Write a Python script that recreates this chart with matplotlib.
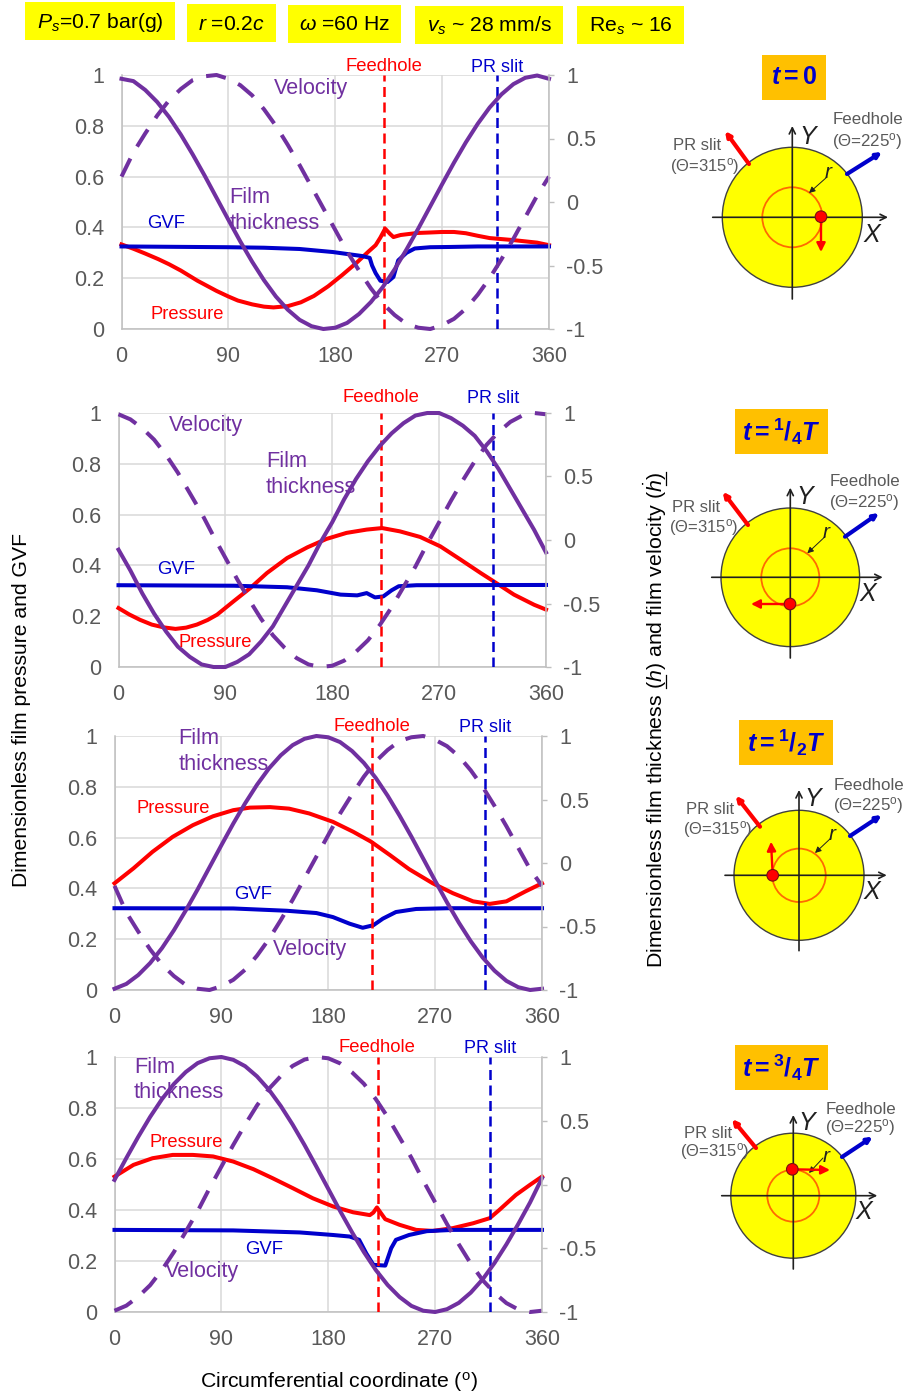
import matplotlib
matplotlib.use("Agg")
import matplotlib.pyplot as plt
from matplotlib.patches import Circle, Rectangle, FancyArrowPatch

plt.rcParams['font.family'] = ['Liberation Sans', 'DejaVu Sans']
plt.rcParams['mathtext.fontset'] = 'custom'
plt.rcParams['mathtext.rm'] = 'Liberation Sans'
plt.rcParams['mathtext.it'] = 'Liberation Sans:italic'
plt.rcParams['mathtext.bf'] = 'Liberation Sans:bold'
plt.rcParams['mathtext.bfit'] = 'Liberation Sans:italic:bold'

# ---------- data ----------
theta = list(range(0, 361, 10))

film_1 = [.985,.976,.941,.894,.835,.765,.687,.604,.517,.430,.345,.265,.192,.128,.076,.036,.011,.000,.005,.024,.059,.106,.165,.235,.313,.396,.483,.570,.655,.735,.808,.872,.924,.964,.989,.998,.985]
vel_1 = [.20,.39,.54,.68,.80,.89,.96,.99,1.0,.97,.92,.84,.73,.60,.45,.29,.12,-.05,-.22,-.39,-.54,-.68,-.80,-.89,-.96,-.99,-1.0,-.97,-.92,-.84,-.73,-.60,-.45,-.29,-.12,.05,.20]
p_x_1 = [0,10,20,31,40,50,64,80,90,98,110,120,128,140,151,162,174,186,198,208,214,218,222,226,229,235,249,260,270,280,290,300,310,320,330,340,350,360]
p_1 = [.333,.316,.297,.275,.255,.23,.19,.15,.128,.112,.097,.088,.085,.09,.105,.13,.168,.213,.261,.305,.33,.36,.395,.375,.362,.37,.378,.38,.382,.382,.377,.367,.358,.354,.35,.345,.34,.33]
g_x_1 = [0,90,120,150,178,203,209,211,214,218,224,229,233,240,247,260,277,300,360]
g_1 = [.325,.322,.32,.315,.303,.287,.28,.25,.22,.19,.185,.205,.27,.30,.317,.322,.323,.325,.325]

film_2 = [.462,.38,.29,.21,.14,.08,.04,.01,.00,.00,.02,.05,.10,.16,.24,.32,.40,.49,.57,.66,.74,.81,.87,.92,.96,.99,1.0,1.0,.98,.95,.91,.85,.78,.70,.62,.54,.451]
vel_2 = [.99,.95,.88,.79,.67,.53,.37,.21,.03,-.14,-.31,-.47,-.62,-.75,-.85,-.93,-.98,-1.0,-.99,-.95,-.88,-.79,-.67,-.53,-.37,-.21,-.03,.14,.31,.47,.62,.75,.85,.93,.98,1.0,.99]
p_x_2 = [0,9,18,28,38,48,57,66,75,83,97,111,125,142,159,175,192,209,222,237,254,271,288,305,316,333,350,360]
p_2 = [.232,.207,.186,.167,.156,.15,.155,.167,.185,.206,.259,.311,.37,.429,.471,.504,.528,.541,.547,.534,.512,.475,.423,.37,.337,.285,.245,.226]
g_x_2 = [0,97,142,167,187,201,209,216,223,230,236,251,360]
g_2 = [.322,.32,.314,.302,.285,.282,.291,.274,.278,.302,.318,.322,.323]

film_3 = [.005,.024,.059,.106,.165,.235,.313,.396,.483,.57,.655,.735,.808,.872,.924,.964,.989,1.0,.995,.976,.941,.894,.835,.765,.687,.604,.517,.43,.345,.265,.192,.128,.076,.036,.011,.0,.005]
vel_3 = [-.18,-.39,-.54,-.68,-.80,-.89,-.96,-.99,-1.0,-.97,-.92,-.84,-.73,-.60,-.45,-.29,-.12,.05,.22,.39,.54,.68,.80,.89,.96,.99,1.0,.97,.92,.84,.73,.60,.45,.29,.12,-.05,-.18]
p_x_3 = [0,16,32,49,66,83,100,114,131,147,164,184,201,216,232,248,268,285,302,316,330,346,360]
p_3 = [.42,.479,.544,.603,.649,.684,.708,.718,.72,.714,.695,.662,.623,.584,.531,.476,.42,.381,.349,.339,.349,.388,.42]
g_x_3 = [0,100,145,170,184,198,209,218,226,237,254,282,360]
g_3 = [.322,.321,.312,.303,.287,.261,.245,.255,.281,.307,.319,.322,.322]

film_4 = [.518,.604,.687,.765,.835,.894,.941,.976,.995,1.0,.989,.964,.924,.872,.808,.735,.655,.57,.483,.396,.313,.235,.165,.106,.059,.024,.005,.0,.011,.036,.076,.128,.192,.265,.345,.43,.525]
vel_4 = [-.99,-.95,-.88,-.79,-.67,-.53,-.37,-.21,-.03,.14,.31,.47,.62,.75,.85,.93,.98,1.0,.99,.95,.88,.79,.67,.53,.37,.21,.03,-.14,-.31,-.47,-.62,-.75,-.85,-.93,-.98,-1.0,-.99]
p_x_4 = [0,16,32,49,66,83,100,117,133,150,167,184,201,215,218,221,224,228,240,254,268,285,302,316,324,338,350,360]
p_4 = [.531,.577,.603,.616,.616,.61,.59,.56,.525,.486,.446,.414,.391,.38,.39,.41,.39,.364,.342,.322,.318,.329,.348,.368,.40,.459,.499,.531]
g_x_4 = [0,100,156,184,198,206,212,218,228,233,237,248,263,285,360]
g_4 = [.322,.32,.312,.302,.296,.283,.23,.185,.182,.25,.283,.302,.317,.322,.322]

left_ticks = [0, .2, .4, .6, .8, 1]
left_labels = ['0', '0.2', '0.4', '0.6', '0.8', '1']
right_ticks = [-1, -.5, 0, .5, 1]
right_labels = ['-1', '-0.5', '0', '0.5', '1']
x_ticks = [0, 90, 180, 270, 360]
feedhole_angles = [221, 221, 217, 222]
prslit_angles = [316, 315.5, 312, 316]

series = [
    (p_x_1, p_1, g_x_1, g_1, film_1, vel_1),
    (p_x_2, p_2, g_x_2, g_2, film_2, vel_2),
    (p_x_3, p_3, g_x_3, g_3, film_3, vel_3),
    (p_x_4, p_4, g_x_4, g_4, film_4, vel_4),
]

# ---------- layout (pixels) ----------
W, H = 907, 1395
panels = [(121.5, 549, 75, 329), (118.5, 546, 413, 667), (114.5, 542, 736, 990), (114.5, 542, 1057, 1312)]
PURPLE, RED, BLUE, GRAY, GRID, EDGE = '#7030A0', '#FF0000', '#0000CC', '#595959', '#D9D9D9', '#BFBFBF'

fig = plt.figure(figsize=(W / 100, H / 100), dpi=100)

for (x0, x1, y0, y1), (px, p, gx, g, film, vel), fa, pa in zip(panels, series, feedhole_angles, prslit_angles):
    ax = fig.add_axes([x0 / W, 1 - y1 / H, (x1 - x0) / W, (y1 - y0) / H])
    ax.set_xlim(0, 360); ax.set_ylim(0, 1)
    ax.set_xticks(x_ticks); ax.set_yticks(left_ticks)
    ax.set_yticklabels(left_labels)
    ax.grid(True, color=GRID, lw=1.1)
    ax.set_axisbelow(True)
    ax.tick_params(length=0, labelsize=15.5, labelcolor=GRAY, pad=12.5)
    ax.tick_params(axis='x', pad=12.5)
    for s in ax.spines.values():
        s.set_visible(False)
    ax.spines['bottom'].set_visible(True); ax.spines['bottom'].set_color(EDGE); ax.spines['bottom'].set_linewidth(1.1)
    ax.spines['left'].set_visible(True); ax.spines['left'].set_color(EDGE); ax.spines['left'].set_linewidth(1.1)
    ax.plot(px, p, color=RED, lw=2.9, zorder=3, clip_on=False, solid_joinstyle='round')
    ax.plot(gx, g, color=BLUE, lw=2.9, zorder=3.2, clip_on=False, solid_joinstyle='round')
    ax.axvline(fa, color=RED, lw=1.8, ls=(0, (4, 2.2)), zorder=3.4)
    ax.axvline(pa, color=BLUE, lw=1.8, ls=(0, (4, 2.2)), zorder=3.4)
    ax.plot(theta, film, color=PURPLE, lw=2.9, zorder=4, clip_on=False, solid_joinstyle='round')
    ar = ax.twinx()
    ar.set_ylim(-1, 1)
    ar.set_yticks(right_ticks); ar.set_yticklabels(right_labels)
    ar.tick_params(length=3.5, width=1, color=EDGE, labelsize=15.5, labelcolor=GRAY, pad=9)
    for s in ar.spines.values():
        s.set_visible(False)
    ar.spines['right'].set_visible(True); ar.spines['right'].set_color(EDGE); ar.spines['right'].set_linewidth(1.1)
    ar.plot(theta, vel, color=PURPLE, lw=2.9, ls=(0, (5, 3.4)), clip_on=False)

ov = fig.add_axes([0, 0, 1, 1], zorder=10)
ov.set_xlim(0, W); ov.set_ylim(H, 0); ov.axis('off'); ov.patch.set_alpha(0)

def label(x, y, s, c, size, **kw):
    ov.text(x, y, s, color=c, fontsize=size, ha='center', va='center', **kw)

# top parameter boxes
boxes = [(25, 175, 2, 40, r'$\mathit{P_s}$=0.7 bar(g)'), (187, 276, 4, 42, r'$\mathit{r}$ =0.2$\mathit{c}$'),
         (288, 401, 5, 43, r'$\mathit{\omega}$ =60 Hz'), (415, 563, 6, 44, r'$\mathit{v_s}$ ~ 28 mm/s'),
         (577, 684, 6, 44, r'Re$_\mathit{s}$ ~ 16')]
for x0, x1, y0, y1, s in boxes:
    ov.add_patch(Rectangle((x0, y0), x1 - x0, y1 - y0, color='#FFFF00', lw=0))
    label((x0 + x1) / 2, (y0 + y1) / 2 + 1, s, 'black', 15.2)

annots = [
    [(384, 65, 'Feedhole', RED, 13.3), (497, 66, 'PR slit', BLUE, 13), (311, 87, 'Velocity', PURPLE, 15.5),
     (250, 196, 'Film', PURPLE, 15.7), (275, 222, 'thickness', PURPLE, 15.7), (166, 222, 'GVF', BLUE, 13.3), (187, 313, 'Pressure', RED, 13.2)],
    [(381, 396, 'Feedhole', RED, 13.3), (493, 397, 'PR slit', BLUE, 13), (206, 424, 'Velocity', PURPLE, 15.5),
     (287, 460, 'Film', PURPLE, 15.7), (311, 486, 'thickness', PURPLE, 15.7), (176, 568, 'GVF', BLUE, 13.3), (215, 641, 'Pressure', RED, 13.2)],
    [(372, 725, 'Feedhole', RED, 13.3), (485, 726, 'PR slit', BLUE, 13), (310, 948, 'Velocity', PURPLE, 15.5),
     (199, 737, 'Film', PURPLE, 15.7), (224, 763, 'thickness', PURPLE, 15.7), (253, 893, 'GVF', BLUE, 13.3), (173, 807, 'Pressure', RED, 13.2)],
    [(377, 1046, 'Feedhole', RED, 13.3), (490, 1047, 'PR slit', BLUE, 13), (202, 1270, 'Velocity', PURPLE, 15.5),
     (155, 1066, 'Film', PURPLE, 15.7), (179, 1091, 'thickness', PURPLE, 15.7), (264, 1248, 'GVF', BLUE, 13.3), (186, 1141, 'Pressure', RED, 13.2)],
]
for grp in annots:
    for x, y, s, c, size in grp:
        label(x, y + 1.5, s, c, size)

label(21.5, 710, 'Dimensionless film pressure and GVF', 'black', 15.2, rotation=90)
label(655, 720, r'Dimensionless film thickness ($\mathit{h}$) and film velocity ($\dot{\mathit{h}}$)', 'black', 15.4, rotation=90)
ov.plot([666, 666], [675, 688], color='black', lw=0.9)
ov.plot([666, 666], [472, 485], color='black', lw=0.9)
label(338.5, 1381.5, r'Circumferential coordinate ($^{\mathrm{o}}$)', 'black', 15.3)

# time badges
badges = [(762, 826, 55, 100, r'$\mathbfit{t}{\mathbf{=}}\mathbf{0}$'),
          (735, 828, 409, 454, r'$\mathbfit{t}{\mathbf{=}}^{\mathbf{1}}\mathbf{/}_{\mathbf{4}}\mathbfit{T}$'),
          (739, 833, 720, 765, r'$\mathbfit{t}{\mathbf{=}}^{\mathbf{1}}\mathbf{/}_{\mathbf{2}}\mathbfit{T}$'),
          (735, 828, 1045, 1090, r'$\mathbfit{t}{\mathbf{=}}^{\mathbf{3}}\mathbf{/}_{\mathbf{4}}\mathbfit{T}$')]
for x0, x1, y0, y1, s in badges:
    ov.add_patch(Rectangle((x0, y0), x1 - x0, y1 - y0, color='#FFC000', lw=0))
    label((x0 + x1) / 2, (y0 + y1) / 2, s, BLUE, 18)

def arrow(p, q, c, lw, ms=9, z=5, style='-|>'):
    ov.add_patch(FancyArrowPatch(p, q, arrowstyle=style, mutation_scale=ms, color=c, lw=lw,
                                 shrinkA=0, shrinkB=0, zorder=z))

schem = [
    dict(c=(792.3, 217.3), R=70, r=30, dot=(821, 216.7), tip=(821, 252), h=(712.7, 888), v=(126, 299),
         Y=(808, 137), X=(872, 235), pr=((749, 164), (725, 131)), fd=((847, 174), (882, 152)),
         t1=(697, 146), t2=(705, 167), t3=(868, 120), t4=(867, 142), rl=(828, 172), ra=((827, 177), (809, 193))),
    dict(c=(790.3, 577.3), R=69.3, r=29, dot=(790, 604), tip=(751, 604), h=(711.7, 882.7), v=(487.7, 658),
         Y=(805, 497), X=(868, 594), pr=((748, 525), (722.7, 491.7)), fd=((845, 536.7), (879, 513)),
         t1=(695.7, 507), t2=(704, 528), t3=(865, 481.7), t4=(864, 502.7), rl=(826, 533), ra=((825, 536.7), (807.3, 553.3))),
    dict(c=(799, 875.3), R=65, r=26.7, dot=(772.7, 875.3), tip=(771, 841.7), h=(725, 886.7), v=(790, 950.7),
         Y=(812.7, 799), X=(872, 891.7), pr=((760, 826.7), (735.7, 795.7)), fd=((850, 836), (881.7, 815)),
         t1=(710, 809), t2=(718, 829), t3=(869, 785), t4=(868, 805), rl=(831.7, 834), ra=((831, 838), (815, 853))),
    dict(c=(793.3, 1195.7), R=62.5, r=26, dot=(792.3, 1169.3), tip=(830, 1170), h=(721.7, 877.3), v=(1115, 1269),
         Y=(806.7, 1123), X=(864, 1211.7), pr=((756, 1148), (732, 1119)), fd=((842, 1157), (872.7, 1136.7)),
         t1=(707.7, 1133), t2=(715, 1151.7), t3=(860.7, 1109), t4=(860, 1128), rl=(825.7, 1156), ra=((823, 1158), (809, 1173))),
]
for d in schem:
    cx, cy = d['c']
    ov.add_patch(Circle((cx, cy), d['R'], facecolor='#FFFF00', edgecolor='#404040', lw=1.0, zorder=2))
    ov.add_patch(Circle((cx, cy), d['r'], facecolor='none', edgecolor='#FF6A00', lw=1.3, zorder=3))
    arrow((d['h'][0], cy), (d['h'][1], cy), '#202020', 1.2, ms=11, z=4, style='->')
    arrow((cx, d['v'][1]), (cx, d['v'][0]), '#202020', 1.2, ms=11, z=4, style='->')
    arrow(d['dot'], d['tip'], RED, 1.7, ms=13, z=6)
    ov.add_patch(Circle(d['dot'], 5.8, facecolor=RED, edgecolor='#7a1010', lw=0.8, zorder=7))
    arrow(d['pr'][0], d['pr'][1], RED, 3, ms=7)
    arrow(d['fd'][0], d['fd'][1], BLUE, 3, ms=7)
    arrow(d['ra'][0], d['ra'][1], '#202020', 0.7, ms=9)
    label(*d['t1'], 'PR slit', GRAY, 12)
    label(*d['t2'], '(\u0398=315$^{\\mathrm{o}}$)', GRAY, 12)
    label(*d['t3'], 'Feedhole', GRAY, 12.2)
    label(*d['t4'], '(\u0398=225$^{\\mathrm{o}}$)', GRAY, 12.2)
    label(*d['Y'], 'Y', '#202020', 18, style='italic')
    label(*d['X'], 'X', '#202020', 18, style='italic')
    label(*d['rl'], 'r', '#202020', 15, style='italic')

fig.savefig('out.png', dpi=100)
